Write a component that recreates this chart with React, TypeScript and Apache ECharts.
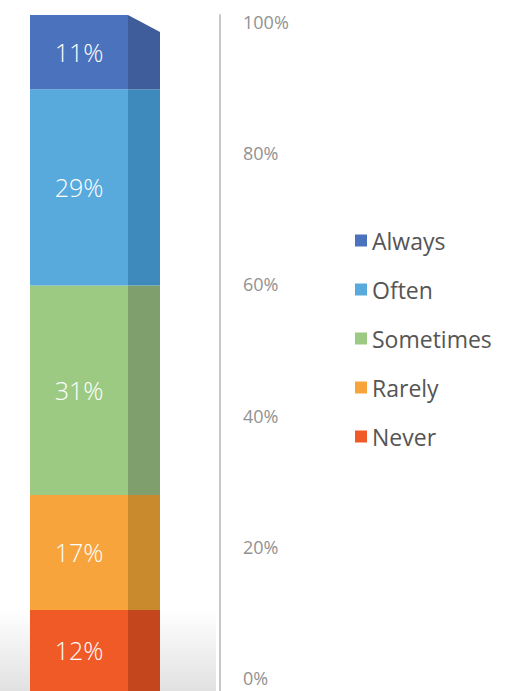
import React, { useEffect, useRef } from "react";
import * as echarts from "echarts";

const categories = ["Frequency"];
const seriesNames = ["Never", "Rarely", "Sometimes", "Often", "Always"];
const seriesValues = [12, 17, 31, 29, 11];
const frontColors = ["#ef5a27", "#f6a43b", "#9dca82", "#58aadd", "#4b72bd"];
const sideColors = ["#c4461d", "#c98a2e", "#7f9f6c", "#3f8abd", "#3f5d9a"];
const legendOrder = ["Always", "Often", "Sometimes", "Rarely", "Never"];
const tickValues = [0, 20, 40, 60, 80, 100];

export default function App() {
  const ref = useRef<HTMLDivElement>(null);
  useEffect(() => {
    if (!ref.current) return;
    const chart = echarts.init(ref.current, undefined, { renderer: "svg" });

    const sideData: any[] = [];
    let cum = 0;
    seriesValues.forEach((v, i) => {
      sideData.push([0, cum, cum + v, i]);
      cum += v;
    });
    const total = cum;

    const barSeries = seriesNames.map((name, i) => ({
      name,
      type: "bar",
      stack: "total",
      xAxisIndex: 0,
      yAxisIndex: 0,
      barWidth: "100%",
      data: [seriesValues[i]],
      itemStyle: { color: frontColors[i] },
      label: {
        show: true,
        position: "inside",
        formatter: "{c}%",
        color: "#ffffff",
        fontSize: 25,
        fontWeight: 300,
        fontFamily: "Open Sans",
      },
      z: 3,
    }));

    const sideSeries = {
      type: "custom",
      xAxisIndex: 0,
      yAxisIndex: 0,
      data: sideData,
      renderItem: (params: any, api: any) => {
        const start = api.value(1);
        const end = api.value(2);
        const idx = api.value(3);
        const p0 = api.coord([api.value(0), start]);
        const p1 = api.coord([api.value(0), end]);
        const bw = api.size([1, 0])[0];
        const xr = p0[0] + bw / 2;
        const dx = 32;
        const isTop = end >= total;
        const topY = p1[1];
        const points = [
          [xr, topY],
          [xr + dx, isTop ? topY + 17 : topY],
          [xr + dx, p0[1]],
          [xr, p0[1]],
        ];
        return {
          type: "polygon",
          shape: { points },
          style: { fill: sideColors[idx] },
        };
      },
      z: 2,
    };

    chart.setOption({
      animation: false,
      backgroundColor: "#ffffff",
      grid: [
        { left: 30, top: 15, width: 98, height: 684 },
        { left: 220, top: 22, width: 100, height: 656 },
      ],
      xAxis: [
        { type: "category", data: categories, gridIndex: 0, show: false },
        { type: "category", data: categories, gridIndex: 1, show: false },
      ],
      yAxis: [
        {
          type: "value",
          gridIndex: 0,
          min: 0,
          max: 100,
          position: "right",
          offset: 92,
          axisLine: { show: true, lineStyle: { color: "#c8c8c8", width: 2 } },
          axisTick: { show: false },
          axisLabel: { show: false },
          splitLine: { show: false },
        },
        {
          type: "value",
          gridIndex: 1,
          min: 0,
          max: 100,
          interval: 20,
          axisLine: { show: false },
          axisTick: { show: false },
          splitLine: { show: false },
          axisLabel: {
            inside: true,
            margin: 23,
            color: "#929292",
            fontSize: 18,
            fontFamily: "Open Sans",
            customValues: tickValues,
            formatter: (v: number) => v + "%",
          },
        },
      ],
      legend: {
        data: legendOrder,
        orient: "vertical",
        left: 350,
        top: 224,
        itemWidth: 12,
        itemHeight: 12,
        itemGap: 26,
        icon: "rect",
        textStyle: {
          color: "#555555",
          fontSize: 23,
          fontFamily: "Open Sans",
          padding: [0, 0, 0, 0],
        },
      },
      graphic: [
        {
          type: "rect",
          z: -10,
          shape: { x: 0, y: 610, width: 216, height: 81 },
          style: {
            fill: new echarts.graphic.LinearGradient(0, 0, 0, 1, [
              { offset: 0, color: "rgba(255,255,255,1)" },
              { offset: 1, color: "rgba(225,225,225,1)" },
            ]),
          },
        },
      ],
      series: [...barSeries, sideSeries],
    });
    return () => chart.dispose();
  }, []);
  return (
    <div
      ref={ref}
      style={{ position: "fixed", left: 0, top: 0, width: 532, height: 691 }}
    />
  );
}
